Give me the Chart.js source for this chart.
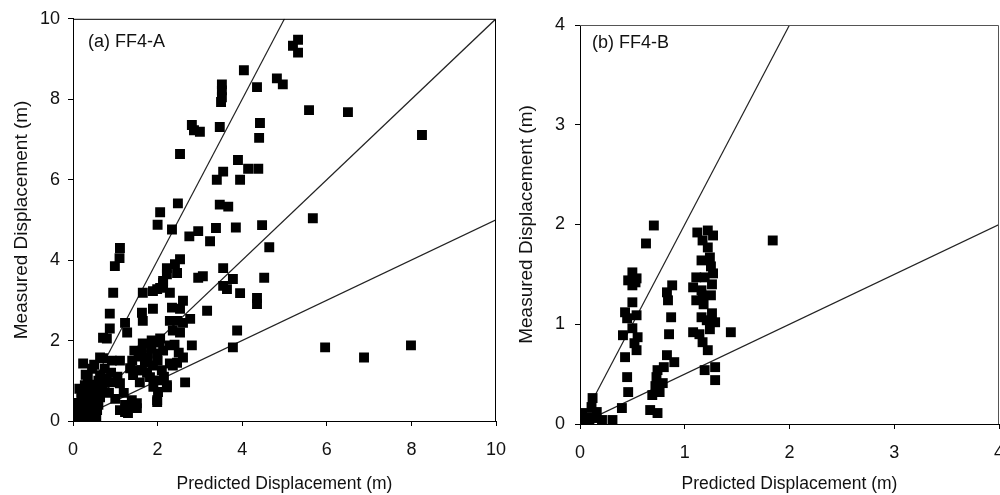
<!DOCTYPE html>
<html>
<head>
<meta charset="utf-8">
<script src="https://cdn.jsdelivr.net/npm/chart.js@4/dist/chart.umd.min.js"></script>
<style>
  html, body { margin: 0; padding: 0; background: #fff; }
  #wrap { position: relative; width: 1000px; height: 495px; overflow: hidden; }
  #chartA { position: absolute; left: 0; top: 0; }
  #chartB { position: absolute; left: 500px; top: 0; }
</style>
</head>
<body>
<div id="wrap">
  <canvas id="chartA" width="540" height="495"></canvas>
  <canvas id="chartB" width="540" height="495"></canvas>
</div>
<script>
// (a) FF4-A : predicted vs measured displacement (m)
const leftX = [5.32, 5.2, 5.32, 4.04, 4.82, 4.96, 4.35, 5.58, 6.5, 8.25, 4.42, 4.4,
  3.9, 4.14, 4.38, 3.95, 3.55, 3.4, 5.67, 4.47, 4.64, 4.52, 3.95, 4.35, 4.35, 3.88,
  5.96, 6.88, 7.99, 3.52, 3.52, 3.52, 3.5, 2.81, 3.0, 2.86, 3.47, 2.53,
  2.48, 2.06, 3.47, 3.67, 2.0, 2.34, 2.75, 2.96, 3.38, 3.85, 3.24, 1.11,
  1.1, 0.99, 2.53, 2.41, 2.22, 3.55, 0.95, 2.96, 3.07, 3.78, 3.55, 3.64,
  2.13, 2.06, 1.89, 1.65, 2.29, 2.22, 2.46, 1.99, 2.13,
  1.89, 1.63, 1.65, 2.34, 2.6, 2.77, 3.17, 2.46, 2.29, 2.53, 2.36, 2.53, 2.6,
  0.87, 1.23, 0.87, 0.71, 0.8, 1.28, 3.78, 2.81,
  0.24, 0.35, 0.28, 0.4, 0.64, 0.71, 0.92, 1.11, 0.64, 0.8, 0.95, 0.69, 1.11,
  0.52, 0.4, 0.47, 0.64, 0.57,
  0.0, 0.09, 0.2, 0.28, 0.47, 0.12, 0.3, 0.05, 0.35, 0.55, 0.2, 0.15, 0.3,
  0.45, 0.5, 0.6, 0.45, 0.35, 0.52, 0.1, 0.25,
  1.23, 1.39, 1.51, 1.3, 1.11, 1.39, 1.23, 1.51,
  1.65, 1.86, 2.06, 1.63, 1.77, 1.99, 2.13, 2.29, 1.89, 1.63, 1.82, 1.58, 1.99,
  2.1, 1.35, 1.42, 2.01, 1.99, 2.22, 2.29, 2.46, 2.65, 2.6, 2.36, 2.22, 1.99,
  1.7, 1.85, 2.0, 2.15, 1.75, 1.55, 1.9, 2.05, 1.45, 1.4, 2.4, 2.5, 1.51, 1.2,
  0.05, 0.1, 0.15, 0.25, 0.4, 0.2, 0.35, 0.45, 0.55, 0.6, 0.3, 0.5, 0.75, 0.85,
  1.0, 0.9, 0.65, 0.75, 1.05];
const leftY = [9.48, 9.33, 9.16, 8.72, 8.52, 8.37, 8.3, 7.73, 7.68, 7.11, 7.41, 7.04,
  6.49, 6.27, 6.27, 6.0, 6.2, 6.0, 5.04, 4.87, 4.32, 3.56, 3.18, 3.06, 2.91, 2.25,
  1.83, 1.58, 1.88, 8.37, 8.22, 8.05, 7.93, 7.36, 7.19, 7.23, 7.31, 6.64,
  5.41, 5.19, 5.38, 5.33, 4.88, 4.76, 4.59, 4.72, 4.8, 4.81, 4.47, 4.3,
  4.05, 3.85, 4.02, 3.9, 3.8, 3.8, 3.19, 3.56, 3.6, 3.53, 3.36, 3.28,
  3.48, 3.31, 3.23, 3.19, 3.19, 3.65, 3.68, 3.28, 3.43,
  2.79, 2.69, 2.49, 2.82, 2.99, 2.54, 2.74, 2.49, 2.49, 2.79, 2.25, 2.2, 2.44,
  2.67, 2.44, 2.3, 2.07, 2.05, 2.2, 1.83, 1.88,
  1.43, 1.09, 0.89, 0.77, 1.58, 1.56, 1.5, 1.5, 1.14, 1.06, 0.96, 0.84, 0.94,
  0.59, 0.47, 0.44, 0.59, 0.27,
  0.07, 0.1, 0.05, 0.15, 0.02, 0.2, 0.3, 0.0, 0.0, 0.12, 0.55, 0.8, 0.6,
  0.35, 0.8, 1.0, 1.3, 0.2, 0.22, 0.35, 0.45,
  0.4, 0.35, 0.44, 0.2, 0.27, 0.52, 0.22, 0.32,
  1.93, 2.0, 2.05, 1.75, 1.58, 1.68, 1.75, 1.88, 1.38, 1.26, 1.09, 0.96, 1.01,
  1.26, 1.31, 1.14, 0.72, 0.47, 0.84, 1.43, 1.45, 0.96, 1.58, 1.38, 0.89, 0.52,
  1.45, 1.8, 1.5, 1.1, 1.2, 1.6, 0.85, 1.95, 1.75, 1.5, 1.9, 1.7, 1.26, 0.7,
  0.3, 0.45, 0.15, 0.25, 0.1, 0.7, 0.55, 0.9, 0.65, 0.4, 1.15, 1.4, 1.3, 0.7,
  0.55, 1.2, 0.75, 0.95, 1.1];

// (b) FF4-B
const rightX = [0.705, 0.63, 1.12, 1.22, 1.27, 1.17, 1.22, 1.16, 1.24, 1.27, 1.19, 1.11,
  1.08, 1.16, 1.25, 1.11, 1.17, 1.25, 1.18, 1.26,
  0.5, 0.46, 0.54, 0.5, 0.53, 0.88, 0.83, 0.84,
  0.5, 0.43, 0.45, 0.54, 0.41, 0.5, 0.55, 0.52, 0.54, 0.43,
  0.87, 0.85, 0.83, 0.9, 0.74, 0.8, 0.73, 0.79, 0.76, 0.69, 0.72,
  0.45, 0.46, 0.4, 0.67, 0.74,
  1.26, 1.21, 1.29, 1.16, 1.08, 1.14, 1.24, 1.17, 1.22, 1.44, 1.29, 1.19, 1.29,
  0.12, 0.11, 0.02, 0.07, 0.14, 0.21, 0.31, 0.03, 0.09, 0.16, 1.84];
const rightY = [1.99, 1.81, 1.92, 1.94, 1.89, 1.84, 1.77, 1.64, 1.67, 1.51, 1.47, 1.47,
  1.37, 1.34, 1.29, 1.24, 1.26, 1.58, 1.2, 1.4,
  1.52, 1.44, 1.46, 1.39, 1.42, 1.39, 1.32, 1.24,
  1.22, 1.12, 1.06, 1.09, 0.89, 0.96, 0.87, 0.81, 0.74, 0.67,
  1.07, 0.9, 0.69, 0.62, 0.54, 0.57, 0.47, 0.41, 0.32, 0.29, 0.38,
  0.47, 0.32, 0.16, 0.14, 0.11,
  1.11, 1.04, 1.02, 1.07, 0.92, 0.9, 0.95, 0.82, 0.74, 0.92, 0.57, 0.54, 0.44,
  0.26, 0.17, 0.11, 0.07, 0.06, 0.04, 0.04, 0.03, 0.02, 0.12, 1.84];

// reference lines (measured = 2x, 1x, 0.5x predicted)
const leftLineTwice = [[0, 0], [5, 10]];
const leftLineEqual = [[0, 0], [10, 10]];
const leftLineHalf = [[0, 0], [10, 5]];
const rightLineTwice = [[0, 0], [2, 4]];
const rightLineHalf = [[0, 0], [4, 2]];

const leftTicks = [0, 2, 4, 6, 8, 10];
const rightTicks = [0, 1, 2, 3, 4];

const FONT = '"Liberation Sans", Arial, sans-serif';
const TEXT = '#111';

const toPoints = (xs, ys) => xs.map((x, i) => ({ x: x, y: ys[i] }));
const toLine = (pts) => pts.map(p => ({ x: p[0], y: p[1] }));

// frame on top/right edge plus the panel label
const framePlugin = {
    id: 'frame',
    afterDraw(chart, args, opts) {
        const { ctx, chartArea: a } = chart;
        ctx.save();
        ctx.strokeStyle = opts.color;
        ctx.lineWidth = opts.width;
        ctx.beginPath();
        ctx.moveTo(a.left, a.top + 0.5);
        ctx.lineTo(a.right - 0.5, a.top + 0.5);
        ctx.lineTo(a.right - 0.5, a.bottom);
        ctx.stroke();
        ctx.fillStyle = TEXT;
        ctx.font = '18px ' + FONT;
        ctx.textBaseline = 'middle';
        ctx.fillText(opts.label, a.left + opts.dx, a.top + opts.dy);
        ctx.restore();
    }
};

function lineSet(pts) {
    return {
        type: 'line',
        data: toLine(pts),
        borderColor: '#222',
        borderWidth: 1.2,
        pointRadius: 0,
        fill: false,
        tension: 0
    };
}

function axisOptions(ticksArr, max, titleText, isX, fit) {
    return {
        type: 'linear',
        min: 0,
        max: max,
        afterBuildTicks: (s) => { s.ticks = ticksArr.map(v => ({ value: v })); },
        ticks: {
            color: TEXT,
            font: { family: FONT, size: 18 },
            padding: fit.tickPad,
            maxRotation: 0,
            autoSkip: false
        },
        grid: {
            display: true,
            drawOnChartArea: false,
            drawTicks: true,
            tickLength: 5,
            color: '#000',
            tickColor: '#000'
        },
        border: { display: true, color: '#000', width: 1 },
        title: {
            display: true,
            text: titleText,
            color: TEXT,
            font: { family: FONT, size: isX ? 17.5 : 19 },
            padding: fit.titlePad
        },
        afterFit: (s) => {
            if (isX) {
                s.height = fit.size;
            } else {
                s.width = fit.size;
            }
        }
    };
}

function makeChart(id, pts, lines, ticksArr, max, area, label, frameColor) {
    const ctx = document.getElementById(id).getContext('2d');
    return new Chart(ctx, {
        type: 'scatter',
        data: {
            datasets: [{
                data: pts,
                pointStyle: 'rect',
                pointRadius: 7,
                pointHoverRadius: 7,
                backgroundColor: '#000',
                borderWidth: 0
            }].concat(lines.map(lineSet))
        },
        options: {
            responsive: false,
            animation: false,
            devicePixelRatio: 1,
            layout: {
                autoPadding: false,
                padding: { left: 0, top: area.top, right: area.right, bottom: 0 }
            },
            plugins: {
                legend: { display: false },
                tooltip: { enabled: false },
                frame: { color: frameColor, width: 1, label: label, dx: area.lx, dy: area.ly }
            },
            scales: {
                x: axisOptions(ticksArr, max, 'Predicted Displacement (m)', true,
                    { size: area.xh, tickPad: 13, titlePad: { top: 0, bottom: 0 } }),
                y: axisOptions(ticksArr, max, 'Measured Displacement (m)', false,
                    { size: area.yw, tickPad: area.ytp, titlePad: { top: area.ttp, bottom: 0 } })
            }
        },
        plugins: [framePlugin]
    });
}

makeChart('chartA', toPoints(leftX, leftY),
    [leftLineTwice, leftLineEqual, leftLineHalf], leftTicks, 10,
    { top: 16, right: 44, xh: 74, yw: 73, ytp: 8, ttp: 10, lx: 15, ly: 23 }, '(a) FF4-A', '#000');

// right panel runs off the page edge, as in the source figure
makeChart('chartB', toPoints(rightX, rightY),
    [rightLineTwice, rightLineHalf], rightTicks, 4,
    { top: 25, right: 41, xh: 71, yw: 80, ytp: 10, ttp: 15, lx: 12, ly: 18 }, '(b) FF4-B', '#555');
</script>
</body>
</html>
